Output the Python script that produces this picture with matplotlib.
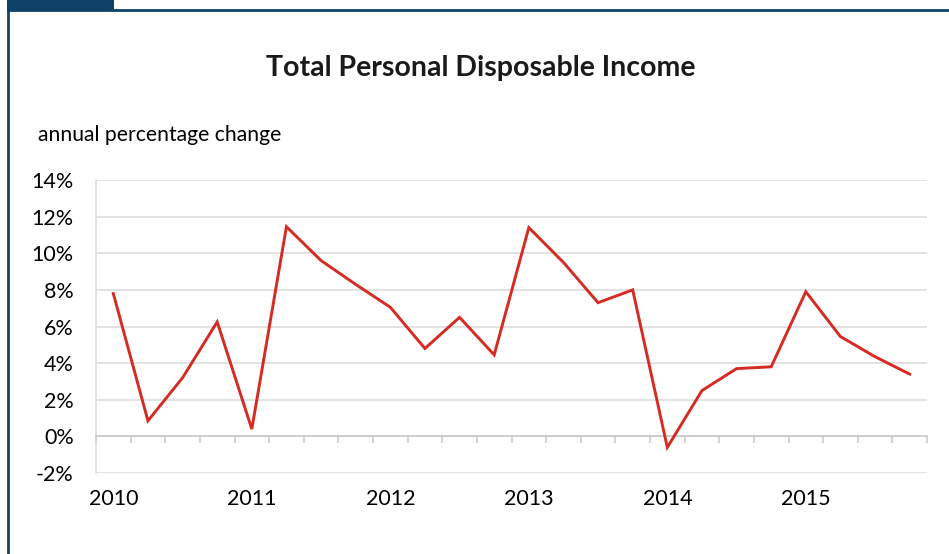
import matplotlib
matplotlib.use("Agg")
import matplotlib.pyplot as plt
from matplotlib.patches import Rectangle
from matplotlib.lines import Line2D
import matplotlib.transforms as mtransforms

plt.rcParams['font.family'] = ['Lato', 'DejaVu Sans']

# quarterly data, 2010Q1 .. 2015Q4
years = ["2010", "2011", "2012", "2013", "2014", "2015"]
pct_change = [7.8, 0.85, 3.2, 6.25, 0.4,
              11.45, 9.6, 8.3, 7.05, 4.8, 6.5, 4.45,
              11.4, 9.5, 7.3, 8.0, -0.6, 2.5, 3.7, 3.8,
              7.9, 5.45, 4.35, 3.4]
y_ticks = [-2, 0, 2, 4, 6, 8, 10, 12, 14]

navy = "#0d4266"
red = "#d62b22"
grid_c = "#dadada"

fig = plt.figure(figsize=(9.49, 5.54), dpi=100)
ax = fig.add_axes([96 / 949, 1 - 473 / 554, 831 / 949, 293 / 554])

x = list(range(len(pct_change)))
ax.plot(x, pct_change, color=red, lw=2.1, solid_joinstyle='miter', zorder=3)

ax.set_xlim(-0.5, len(pct_change) - 0.5)
ax.set_ylim(-2, 14)
ax.set_yticks(y_ticks)
ax.set_yticklabels([f"{v}%" for v in y_ticks])
ax.yaxis.grid(True, color=grid_c, lw=1.1)
ax.set_axisbelow(True)
ax.tick_params(axis='y', length=0, pad=16, labelsize=15.5)

for s in ['top', 'right']:
    ax.spines[s].set_visible(False)
ax.spines['left'].set_color(grid_c)
ax.spines['left'].set_linewidth(1.1)
ax.spines['bottom'].set_position(('data', 0))
ax.spines['bottom'].set_color("#c8c8c8")
ax.spines['bottom'].set_linewidth(1.1)

# tick marks between quarters on the zero line
ax.set_xticks([i - 0.5 for i in range(len(pct_change) + 1)])
ax.set_xticklabels([])
ax.tick_params(axis='x', direction='out', length=5, width=1.1, color="#c8c8c8")

trans = mtransforms.blended_transform_factory(ax.transData, ax.transAxes)
for k, yr in enumerate(years):
    ax.text(k * 4, -0.09, yr, transform=trans, ha='center', va='center', fontsize=15.5)

fig.text(481 / 949, 1 - 68 / 554, "Total Personal Disposable Income",
         ha='center', va='center', fontsize=20.5, fontweight='bold', color="#1a1a1a")
fig.text(38 / 949, 1 - 135 / 554, "annual percentage change",
         ha='left', va='center', fontsize=15.2)

# frame around the chart
W, H = 949, 554
fig.add_artist(Line2D([8 / W, 8 / W], [0, 1 - 10 / H], color=navy, lw=2.0))
fig.add_artist(Line2D([8 / W, 1], [1 - 10 / H, 1 - 10 / H], color=navy, lw=2.0))
fig.add_artist(Rectangle((7 / W, 1 - 11 / H), 107 / W, 11 / H, color=navy, lw=0))

fig.savefig("out.png", dpi=100)
